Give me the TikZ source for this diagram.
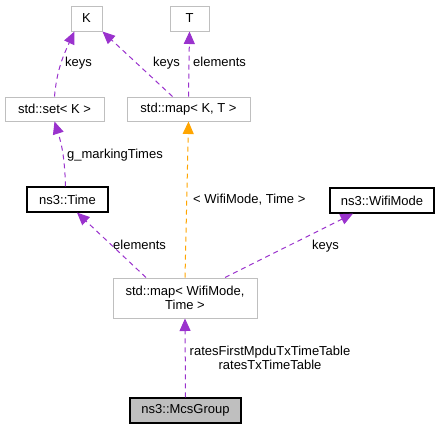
\documentclass[tikz,border=0pt]{standalone}
\usepackage{fontspec}
\setmainfont{Liberation Sans}
\usetikzlibrary{arrows.meta}
\definecolor{edgepurple}{HTML}{9A32CD}
\definecolor{edgeorange}{HTML}{FFA500}
\definecolor{boxgray}{HTML}{BFBFBF}
\tikzset{cls/.style = {draw = black, line width = 1.2pt, inner sep = 0pt, align = center, font = \fontsize{13}{13.5}\selectfont}}
\tikzset{tmpl/.style = {cls, draw = boxgray, line width = 1pt}}
\tikzset{uses/.style = {draw = edgepurple, line width = 1pt, dash pattern = on 5pt off 4pt, -{Triangle[length = 12.5pt, width = 11pt]}}}
\tikzset{inst/.style = {uses, draw = edgeorange}}
\tikzset{lbl/.style = {inner sep = 0pt, anchor = base west, font = \fontsize{13}{13.5}\selectfont}}

\begin{document}
\begin{tikzpicture}[x = 1pt, y = -1pt]
\useasboundingbox (0,0) rectangle (443,429);
\node[tmpl, minimum width = 31pt, minimum height = 25pt] (K) at (86.5,18.5) {K};
\node[tmpl, minimum width = 39pt, minimum height = 25pt] (T) at (189.5,18.5) {T};
\node[tmpl, minimum width = 99pt, minimum height = 24pt] (setK) at (54.5,109) {std::set< K >};
\node[tmpl, minimum width = 123pt, minimum height = 24pt] (mapKT) at (188.5,109) {std::map< K, T >};
\node[cls, minimum width = 81pt, minimum height = 25pt] (Time) at (67.5,199.5) {ns3::Time};
\node[cls, minimum width = 104pt, minimum height = 25pt] (WifiMode) at (382,200.5) {ns3::WifiMode};
\node[tmpl, minimum width = 144pt, minimum height = 40pt] (mapWT) at (185,298) {std::map< WifiMode,\\Time >};
\node[cls, fill = boxgray, minimum width = 111pt, minimum height = 25pt] (McsGroup) at (185.5,410.5) {ns3::McsGroup};
\draw[uses] (setK.north) to[out = 85, in = -115] ([xshift = 4pt]K.south west);
\draw[uses] ([xshift = -16pt]mapKT.north) -- (K.south east);
\draw[uses] (mapKT.north) -- (T.south);
\draw[uses] ([xshift = -2pt]Time.north) to[bend right = 8] (setK.south);
\draw[inst] (mapWT.north) -- (mapKT.south);
\draw[uses] ([xshift = -39pt]mapWT.north) -- ([xshift = 9.5pt]Time.south);
\draw[uses] ([xshift = 40pt]mapWT.north) -- ([xshift = -29pt]WifiMode.south);
\draw[uses] (McsGroup.north) -- (mapWT.south);
\node[lbl] (keysSet) at (65,66.5) {keys};
\node[lbl] (keysMap) at (153,66.5) {keys};
\node[lbl] (elemT) at (193,66.5) {elements};
\node[lbl] (marking) at (67,158) {g\_markingTimes};
\node[lbl] (tmplArgs) at (193,203) {< WifiMode, Time >};
\node[lbl] (elemTime) at (113,249) {elements};
\node[lbl] (keysWifi) at (312,249) {keys};
\node[lbl, anchor = center, align = center] (rates) at (270,358) {ratesFirstMpduTxTimeTable\\ratesTxTimeTable};
\end{tikzpicture}
\end{document}
